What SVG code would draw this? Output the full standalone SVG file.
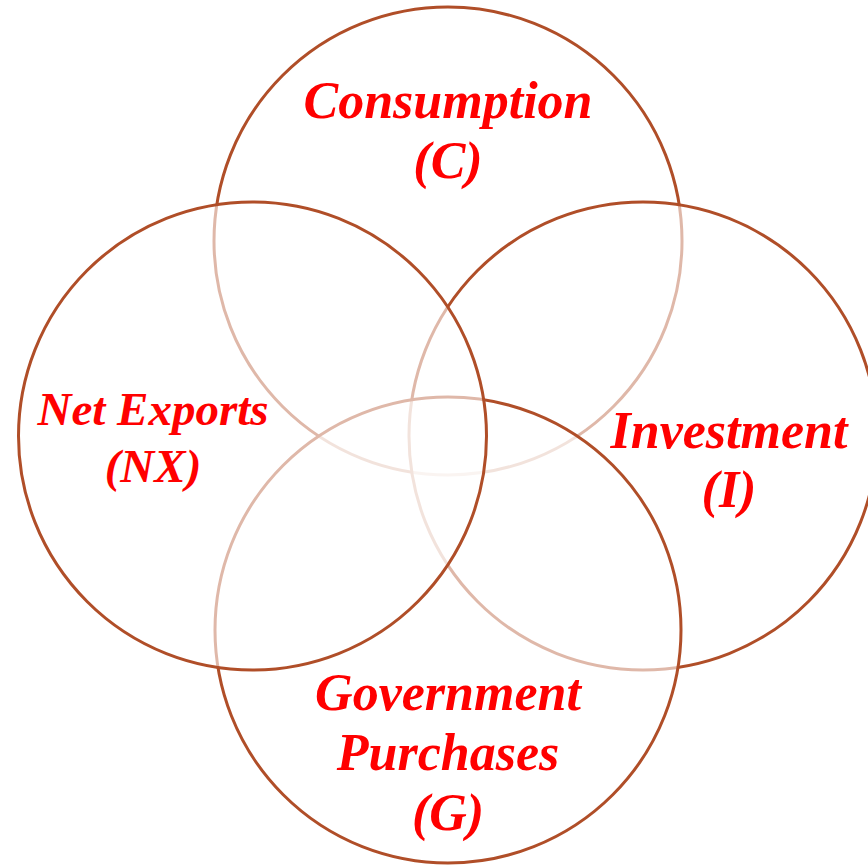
<svg xmlns="http://www.w3.org/2000/svg" width="868" height="865" viewBox="0 0 868 865">
  <style>
    .ring { fill: #ffffff; fill-opacity: 0.6; stroke: #B04E28; stroke-width: 3; }
    .label { font-family: "Liberation Serif", "Times New Roman", serif; font-weight: bold; font-style: italic; fill: #FF0000; text-anchor: middle; }
  </style>
  <rect width="868" height="865" fill="#ffffff"/>
  <!-- circles are stacked bottom to top; the translucent white fill fades the arcs beneath -->
  <g id="consumption">
    <circle class="ring" cx="448" cy="241" r="234"/>
  </g>
  <g id="investment">
    <circle class="ring" cx="643" cy="436" r="234"/>
  </g>
  <g id="government">
    <circle class="ring" cx="448" cy="630" r="233"/>
  </g>
  <g id="net-exports">
    <circle class="ring" cx="252.5" cy="436" r="234"/>
  </g>
  <g id="labels">
    <text class="label" font-size="52" x="448" y="118">Consumption</text>
    <text class="label" font-size="52" x="448" y="178">(C)</text>
    <text class="label" font-size="47" x="153" y="425">Net Exports</text>
    <text class="label" font-size="47" x="153" y="482">(NX)</text>
    <text class="label" font-size="52" x="729" y="448">Investment</text>
    <text class="label" font-size="52" x="729" y="507">(I)</text>
    <text class="label" font-size="52" x="448" y="710">Government</text>
    <text class="label" font-size="52" x="448" y="770">Purchases</text>
    <text class="label" font-size="52" x="448" y="830">(G)</text>
  </g>
  <g id="connectors"></g>
</svg>
